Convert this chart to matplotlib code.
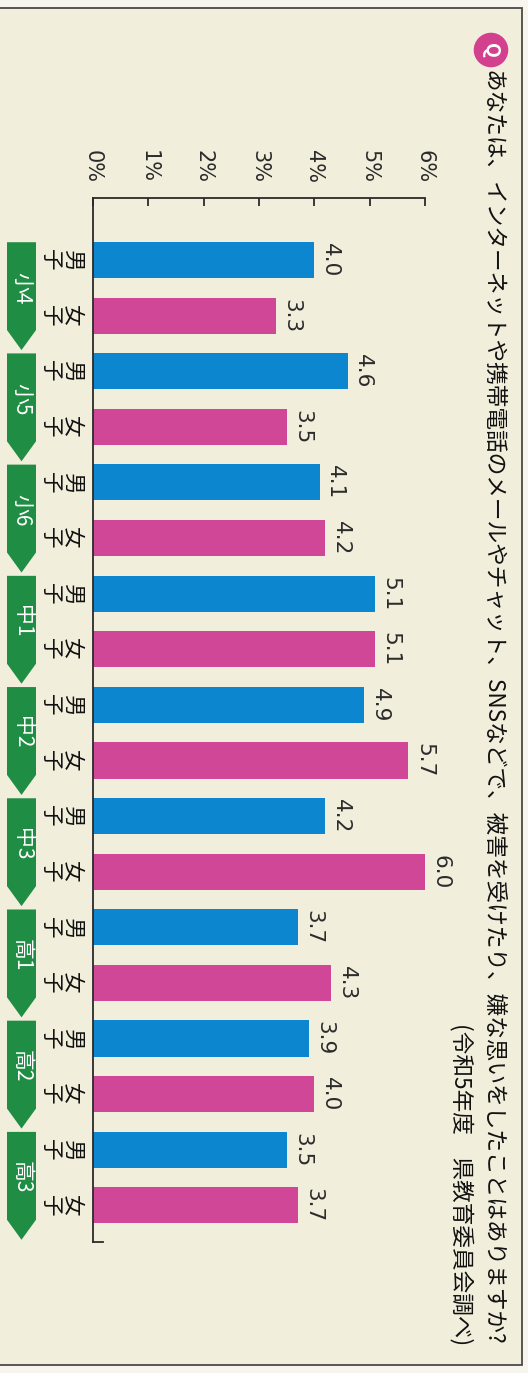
import numpy as np
import matplotlib
matplotlib.use('Agg')
import matplotlib.pyplot as plt
from matplotlib.patches import Polygon, Rectangle
from matplotlib.transforms import blended_transform_factory

plt.rcParams['font.family'] = ['Noto Sans CJK JP', 'DejaVu Sans']

# data (percent)
groups = ['小4', '小5', '小6', '中1', '中2', '中3', '高1', '高2', '高3']
boys = [4.0, 4.6, 4.1, 5.1, 4.9, 4.2, 3.7, 3.9, 3.5]
girls = [3.3, 3.5, 4.2, 5.1, 5.7, 6.0, 4.3, 4.0, 3.7]
sex_labels = ['男子', '女子']
xticks = [0, 1, 2, 3, 4, 5, 6]

title = 'あなたは、インターネットや携帯電話のメールやチャット、SNSなどで、被害を受けたり、嫌な思いをしたことはありますか?'
source = '(令和5年度　県教育委員会調べ)'

blue = '#0b86cf'
pink = '#cf4796'
green = '#1f8d43'
ink = '#2b2b2b'

W, H = 528, 1373
fig = plt.figure(figsize=(W / 100, H / 100), dpi=100)
fig.patch.set_facecolor('#f7f5ee')

# paper frame
fig.patches.append(Rectangle((-0.02, 8 / H), 522 / W + 0.02, (1365 - 8) / H,
                             transform=fig.transFigure, fc='#f2eedc',
                             ec='#4a4a4a', lw=1.3, zorder=-5))

# main bar axes (chart is drawn rotated: values run left -> right)
ax = fig.add_axes([93 / W, 131 / H, 332 / W, 1044 / H])
ax.set_facecolor('none')
ax.set_zorder(2)

ypos = np.arange(len(groups) * 2)
vals = []
for b, g in zip(boys, girls):
    vals += [b, g]
cols = [blue, pink] * len(groups)
ax.barh(ypos, vals, height=0.65, color=cols, zorder=2)

ax.set_xlim(0, 6)
ax.set_ylim(17.66, -1.115)
for s in ['right', 'bottom']:
    ax.spines[s].set_visible(False)
for s in ['left', 'top']:
    ax.spines[s].set_color(ink)
    ax.spines[s].set_linewidth(1.3)
ax.xaxis.tick_top()
ax.set_xticks(xticks)
ax.tick_params(axis='x', direction='in', length=6, width=1.3, color=ink,
               labeltop=False)
ax.set_yticks([])
# little foot at the bottom of the 0 line
ax.plot([0, 10 / 332], [0, 0], transform=ax.transAxes, color=ink, lw=1.3,
        clip_on=False)

# tick labels, rotated
tr_x = blended_transform_factory(ax.transData, ax.transAxes)
for v in xticks:
    ax.text(v, 1.014, f'{v}%', transform=tr_x, rotation=-90, ha='center',
            va='bottom', fontsize=15, color=ink, family='DejaVu Sans')

# value labels
for y, v in zip(ypos, vals):
    ax.text(v + 0.1, y, f'{v:.1f}', rotation=-90, ha='left', va='center',
            fontsize=15.5, color=ink, family='DejaVu Sans')

# sex labels (vertical writing, rotated)
tr_y = blended_transform_factory(fig.transFigure, ax.transData)
for y in ypos:
    lab = sex_labels[y % 2]
    for k, ch in enumerate(lab):
        ax.text((72 - 22 * k) / W, y, ch, transform=tr_y, rotation=-90,
                ha='center', va='center', fontsize=15.5, color='#111111',
                clip_on=False)

# green arrow boxes for grades
ax2 = fig.add_axes([7 / W, 131 / H, 29 / W, 1044 / H], sharey=ax)
ax2.axis('off')
ax2.set_zorder(2)
ax2.set_xlim(0, 1)
for gi, name in enumerate(groups):
    top = 2 * gi - 0.32
    chev = 2 * gi + 1.26
    tip = 2 * gi + 1.62
    ax2.add_patch(Polygon([(0, top), (1, top), (1, chev), (0.5, tip), (0, chev)],
                          closed=True, fc=green, ec='none'))
    ax2.text(0.5, 2 * gi + 0.5, name, rotation=-90, ha='center', va='center',
             fontsize=15, color='white')

# question mark badge + title
fig.text(491 / W, 1 - 50 / H, 'Q', rotation=-90, ha='center', va='center',
         fontsize=14, color='white', fontweight='bold',
         bbox=dict(boxstyle='circle,pad=0.4', fc='#d2408e', ec='none'))
fig.text(492 / W, 1 - 70 / H, title, rotation=-90, ha='center', va='top',
         fontsize=16.3, color='#111111')
fig.text(462 / W, 1 - 1345 / H, source, rotation=-90, ha='center',
         va='bottom', fontsize=16.3, color='#111111')

fig.savefig('out.png', dpi=100, facecolor=fig.get_facecolor())
